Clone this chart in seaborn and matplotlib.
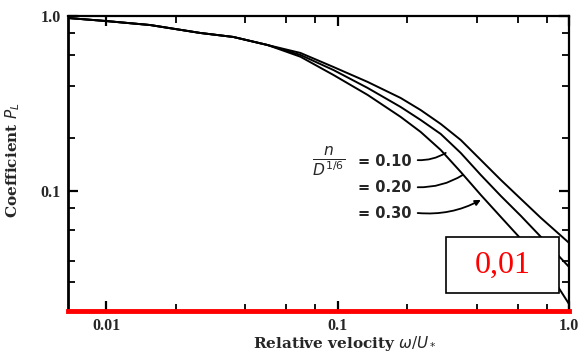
import matplotlib
matplotlib.use("Agg")
import numpy as np
import pandas as pd
import matplotlib.pyplot as plt
import seaborn as sns
from matplotlib.ticker import FixedLocator, NullFormatter
from matplotlib.patches import Rectangle

# ---- data ----
x_head = [0.00685, 0.0100, 0.01551, 0.02552, 0.03546, 0.04977]
y_head = [0.974, 0.936, 0.888, 0.800, 0.759, 0.683]

x_tail = [0.06916, 0.09609, 0.1349, 0.1874, 0.2287, 0.2792, 0.3407, 0.4159, 0.5077, 0.6197, 0.7564, 1.0]
y_upper_tail = [0.615, 0.511, 0.420, 0.340, 0.290, 0.2415, 0.1956, 0.1504, 0.1156, 0.0900, 0.0701, 0.0505]
y_middle_tail = [0.599, 0.491, 0.388, 0.302, 0.2545, 0.2117, 0.1649, 0.1234, 0.0936, 0.0720, 0.0546, 0.0368]

x_lower_tail = [0.06916, 0.09609, 0.1349, 0.1874, 0.2287, 0.2792, 0.3407, 0.4159, 0.5077, 0.6197, 0.7951, 1.0]
y_lower_tail = [0.585, 0.460, 0.354, 0.265, 0.2174, 0.1715, 0.1284, 0.0949, 0.0710, 0.0532, 0.0363, 0.0226]

series_labels = ["= 0.10", "= 0.20", "= 0.30"]
x_ticks = [0.01, 0.1, 1.0]
x_tick_labels = ["0.01", "0.1", "1.0"]
y_ticks = [0.1, 1.0]
y_tick_labels = ["0.1", "1.0"]
x_minor = [0.02, 0.04, 0.06, 0.08, 0.2, 0.4, 0.6, 0.8]
y_minor = [0.03, 0.04, 0.06, 0.08, 0.2, 0.4, 0.6, 0.8]

sns.set_style("ticks")
plt.rcParams['font.family'] = ['DejaVu Sans']

fig = plt.figure(figsize=(5.82, 3.52), dpi=100)
ax = fig.add_axes([68/582, 41/352, 501/582, 295/352])
ax.set_xscale('log')
ax.set_yscale('log')

curves = [
    (x_head + x_tail, y_head + y_upper_tail, series_labels[0]),
    (x_head + x_tail, y_head + y_middle_tail, series_labels[1]),
    (x_head + x_lower_tail, y_head + y_lower_tail, series_labels[2]),
]
frames = [pd.DataFrame({"x": xs, "y": ys, "n": lab}) for xs, ys, lab in curves]
df = pd.concat(frames, ignore_index=True)
sns.lineplot(data=df, x="x", y="y", units="n", ax=ax, color="black", linewidth=1.4,
             sort=False, estimator=None, legend=False)

ax.set_xlim(0.00685, 1.0)
ax.set_ylim(0.0206, 1.0)

ax.xaxis.set_major_locator(FixedLocator(x_ticks))
ax.xaxis.set_minor_locator(FixedLocator(x_minor))
ax.xaxis.set_minor_formatter(NullFormatter())
ax.set_xticklabels(x_tick_labels)
ax.yaxis.set_major_locator(FixedLocator(y_ticks))
ax.yaxis.set_minor_locator(FixedLocator(y_minor))
ax.yaxis.set_minor_formatter(NullFormatter())
ax.set_yticklabels(y_tick_labels)

ax.tick_params(which='both', direction='in', top=True, right=True, color='black')
ax.tick_params(which='major', length=7, width=1.6, pad=5)
ax.tick_params(which='minor', length=5, width=1.3)
for lbl in ax.get_xticklabels() + ax.get_yticklabels():
    lbl.set_fontfamily('Liberation Serif')
    lbl.set_fontweight('bold')
    lbl.set_fontsize(11.5)

for side in ['top', 'right', 'left']:
    ax.spines[side].set_color('black')
    ax.spines[side].set_linewidth(1.6)
ax.spines['left'].set_linewidth(2.0)
ax.spines['bottom'].set_color('red')
ax.spines['bottom'].set_linewidth(3.5)
ax.spines['bottom'].set_zorder(10)

ax.set_xlabel(r"Relative velocity $\omega/U_*$", fontfamily='DejaVu Serif',
              fontweight='bold', fontsize=11)
ax.xaxis.set_label_coords(0.553, -0.078)
ax.set_ylabel(r"Coefficient $P_L$", fontfamily='DejaVu Serif',
              fontweight='bold', fontsize=11)
ax.yaxis.set_label_coords(-0.092, 0.512)

# annotation of the curves
ax.text(0.0914, 0.146, r"$\frac{n}{D^{1/6}}$", fontsize=16, ha='center', va='center')
txt_y = [0.1465, 0.104, 0.0748]
ends = [(0.2934, 0.165), (0.3475, 0.1234), (0.4159, 0.0889)]
starts = [(0.222, 0.150), (0.222, 0.105), (0.222, 0.0748)]
for i, (lab, ty, st, en) in enumerate(zip(series_labels, txt_y, starts, ends)):
    ax.text(0.122, ty, lab, fontsize=10.5, fontweight='bold', ha='left', va='center')
    ax.annotate('', xy=en, xytext=st,
                arrowprops=dict(arrowstyle='-|>' if i == 2 else '-', color='black', lw=1.3,
                                connectionstyle='arc3,rad=0.15', shrinkA=0, shrinkB=0,
                                mutation_scale=8))

# boxed red annotation
ax.add_patch(Rectangle((0.754, 0.061), 0.226, 0.19, transform=ax.transAxes,
                       facecolor='white', edgecolor='black', linewidth=1.2, zorder=5))
ax.text(0.867, 0.156, "0,01", transform=ax.transAxes, color='red',
        fontfamily='Liberation Serif', fontsize=23, ha='center', va='center', zorder=6)

fig.savefig("out.png", dpi=100)
